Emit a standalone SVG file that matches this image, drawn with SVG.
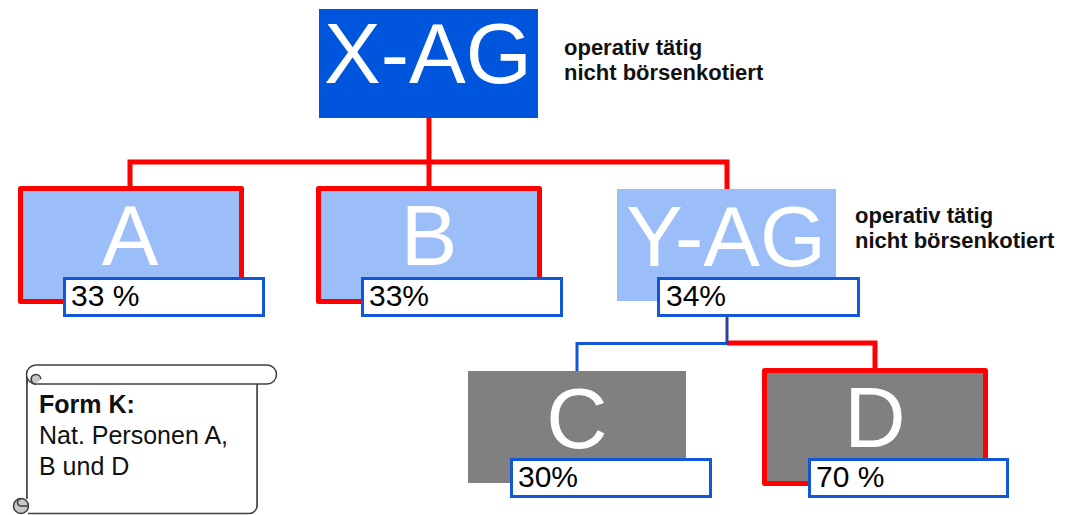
<svg xmlns="http://www.w3.org/2000/svg" width="1067" height="515" viewBox="0 0 1067 515">
<style>
  .big { font-family: "Liberation Sans", Arial, sans-serif; font-size: 85px; fill: #ffffff; text-anchor: middle; }
  .pct { font-family: "Liberation Sans", Arial, sans-serif; font-size: 30px; fill: #000000; }
  .note { font-family: "Liberation Sans", Arial, sans-serif; font-size: 22px; font-weight: bold; fill: #111111; }
  .scrolltxt { font-family: "Liberation Sans", Arial, sans-serif; font-size: 25px; fill: #111111; }
  .lbl { fill: #ffffff; stroke: #1456d8; stroke-width: 3; }
  .light { fill: #9cbef8; }
  .gray { fill: #808080; }
  .redframe { stroke: #ff0000; stroke-width: 5; stroke-linejoin: round; }
  .red { fill: none; stroke: #ff0000; stroke-width: 5; }
  .blue { fill: none; stroke: #1456d8; stroke-width: 3; }
</style>
<rect width="1067" height="515" fill="#ffffff"/>

<g id="connectors">
  <path class="red" d="M429,118 V187 M130,187 V162 H727 V190"/>
  <path class="blue" d="M577,371 V343.5 H727"/>
  <path class="red" d="M727,343 H875 V369"/>
  <path d="M727,316 V344" fill="none" stroke="#2f3fa0" stroke-width="3"/>
</g>

<g id="node-xag">
  <rect x="319" y="9" width="219" height="109" fill="#0055dd"/>
  <text class="big" x="428" y="83">X-AG</text>
  <text class="note" x="564" y="55">operativ tätig</text>
  <text class="note" x="564" y="80">nicht börsenkotiert</text>
</g>

<g id="node-a">
  <rect class="light redframe" x="20.5" y="188.5" width="221" height="113"/>
  <text class="big" x="130" y="265">A</text>
  <rect class="lbl" x="64.5" y="278.5" width="199" height="37"/>
  <text class="pct" x="71" y="306">33 %</text>
</g>

<g id="node-b">
  <rect class="light redframe" x="318.5" y="188.5" width="221" height="113"/>
  <text class="big" x="429" y="265">B</text>
  <rect class="lbl" x="362.5" y="278.5" width="199" height="37"/>
  <text class="pct" x="369" y="306">33%</text>
</g>

<g id="node-yag">
  <rect class="light" x="617" y="189" width="219" height="112"/>
  <text class="big" x="726" y="266">Y-AG</text>
  <rect class="lbl" x="658.5" y="278.5" width="200" height="37"/>
  <text class="pct" x="666" y="306">34%</text>
  <text class="note" x="855" y="223">operativ tätig</text>
  <text class="note" x="855" y="248">nicht börsenkotiert</text>
</g>

<g id="node-c">
  <rect class="gray" x="468" y="371" width="218" height="112"/>
  <text class="big" x="577" y="448">C</text>
  <rect class="lbl" x="511.5" y="459.5" width="199" height="37"/>
  <text class="pct" x="518" y="487">30%</text>
</g>

<g id="node-d">
  <rect class="gray redframe" x="764.5" y="370.5" width="221" height="113"/>
  <text class="big" x="875" y="447">D</text>
  <rect class="lbl" x="809.5" y="459.5" width="198" height="37"/>
  <text class="pct" x="816" y="487">70 %</text>
</g>

<g id="note-scroll" stroke="#404040" stroke-width="1.5">
  <path d="M27,374 V499 M28,513 H249 A8,8 0 0 0 257,505 V384" fill="#ffffff"/>
  <rect x="27" y="384" width="230" height="129" fill="#ffffff" stroke="none"/>
  <path d="M27,374 V499 M28,513.5 H249 A8,8 0 0 0 257,505.5 V384" fill="none"/>
  <path d="M36,365 H267 A9.5,9.5 0 0 1 267,384 H36 A9.5,9.5 0 0 1 36,365 Z" fill="#ffffff"/>
  <path d="M36,374.5 A4.75,4.75 0 0 0 36,384 A4.75,4.75 0 0 1 36,374.5 Z" fill="#c8c8c8"/>
  <path d="M36,384 A4.75,4.75 0 0 1 36,374.5 A4.75,4.75 0 0 1 40.75,379.25" fill="#c8c8c8"/>
  <circle cx="21" cy="506" r="7.5" fill="#c8c8c8"/>
  <path d="M21,506 H28 M21,506 A3.5,3.5 0 0 1 21,499" fill="none"/>
  <text class="scrolltxt" x="39" y="413" font-weight="bold" stroke="none">Form K:</text>
  <text class="scrolltxt" x="39" y="444" stroke="none">Nat. Personen A,</text>
  <text class="scrolltxt" x="39" y="475" stroke="none">B und D</text>
</g>
</svg>
